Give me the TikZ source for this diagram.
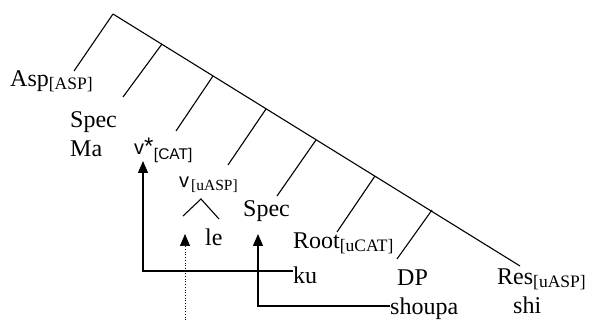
\documentclass[tikz,border=0pt]{standalone}
\usepackage{fontspec}
\setmainfont{Liberation Serif}
\newfontfamily\sansf{Liberation Sans}
\usetikzlibrary{arrows.meta}

\newcommand\bigtxt{\fontsize{24}{24}\selectfont}
\newcommand\subtxt{\fontsize{17.5}{17.5}\selectfont}
\newcommand\feat[1]{\raisebox{-3pt}{\subtxt #1}}

\begin{document}
\begin{tikzpicture}[x=1pt,y=-1pt,
  lab/.style={anchor=base west, inner sep=0pt, font=\bigtxt},
  sanslab/.style={anchor=base west, inner sep=0pt, font=\sansf\fontsize{20}{20}\selectfont},
  branch/.style={line width=1.1pt},
  mov/.style={line width=1.1pt, -{Triangle[width=10pt,length=12pt]}},
  trace/.style={line width=0.7pt, dotted, -{Triangle[width=10pt,length=12pt]}}]
\useasboundingbox (0,0) rectangle (595,320);

% spine of the tree and its branches
\coordinate (top) at (113,14);
\coordinate (bot) at (520,266);
\draw[branch] (top) -- (bot);
\coordinate (b1) at (74,71);
\coordinate (t2) at (162,44);  \coordinate (b2) at (123,97);
\coordinate (t3) at (213,76);  \coordinate (b3) at (176,131);
\coordinate (t4) at (266,109); \coordinate (b4) at (228,165);
\coordinate (t5) at (316,140); \coordinate (b5) at (277,196);
\coordinate (t6) at (375,176); \coordinate (b6) at (337,232);
\coordinate (t7) at (432,210); \coordinate (b7) at (397,259);
\draw[branch] (top) -- (b1);
\draw[branch] (t2) -- (b2);
\draw[branch] (t3) -- (b3);
\draw[branch] (t4) -- (b4);
\draw[branch] (t5) -- (b5);
\draw[branch] (t6) -- (b6);
\draw[branch] (t7) -- (b7);

% labels
\node[lab] (asp) at (10,87) {Asp\feat{[ASP]}};
\node[lab] (spec1) at (70,128) {Spec};
\node[lab] (ma) at (70,157) {Ma};
\node[sanslab] (vstar) at (134,155) {v{\fontsize{24}{24}\selectfont*}};
\node[anchor=base west, inner sep=0pt, font=\sansf\fontsize{15.5}{15.5}\selectfont] (cat) at ([yshift=-5pt]vstar.base east) {[CAT]};
\node[sanslab] (vsm) at (179,188) {v};
\node[anchor=base west, inner sep=0pt, font=\fontsize{15.5}{15.5}\selectfont] (uasp) at (191,191) {[uASP]};
\node[lab] (le) at (205,246) {le};
\node[lab] (spec2) at (243,217) {Spec};
\node[lab] (root) at (293,249) {Root\feat{[uCAT]}};
\node[lab] (ku) at (293,284) {ku};
\node[lab] (dp) at (397,286) {DP};
\node[lab] (shoupa) at (390,315) {shoupa};
\node[lab] (res) at (497,285) {Res\feat{[uASP]}};
\node[lab] (shi) at (513,314) {shi};

% small branching under v
\coordinate (cl) at (183,216);
\coordinate (cm) at (201,199);
\coordinate (cr) at (219,219);
\draw[branch] (cl) -- (cm) -- (cr);

% movement arrows
\draw[mov] ([yshift=13pt]ku.base west) -| (143,161);
\draw[mov] ([yshift=9pt]shoupa.base west) -| (258,234);
\coordinate (tr) at (185,320);
\draw[trace] (tr) -- (185,234);
\end{tikzpicture}
\end{document}
